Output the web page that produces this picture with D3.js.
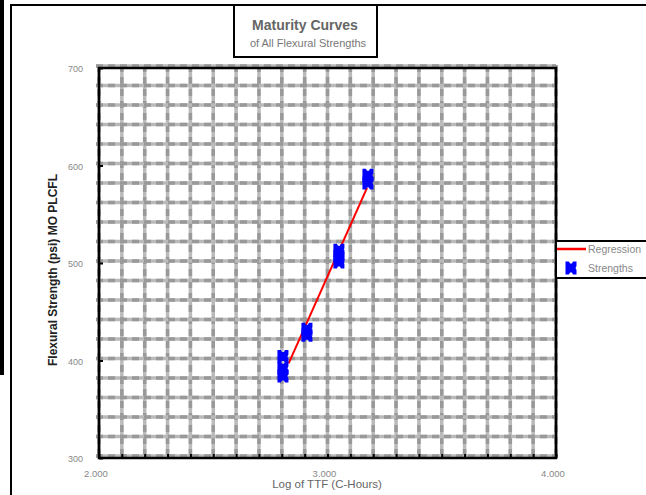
<!DOCTYPE html>
<html lang="en">
  <head>
    <meta charset="UTF-8" />
    <title>Maturity Curves</title>
    <style>
      body { margin: 0; background: #fff; }
      svg { display: block; font-family: "Liberation Sans", Arial, sans-serif; }
    </style>
  </head>
  <body>
    <svg width="646" height="495"></svg>
    <script src="https://d3js.org/d3.v7.min.js"></script>
    <script>
      // data
      const ttfLog = [2.805, 2.805, 2.805, 2.91, 2.91, 3.05, 3.05, 3.05, 3.177, 3.177];
      const strength = [404, 392, 384, 432, 426, 513, 507, 501, 590, 582];
      const regX = [2.83, 3.173];
      const regY = [397, 577];
      const xTicks = [2, 3, 4];
      const yTicks = [300, 400, 500, 600, 700];

      (function () {
        const svg = d3.select("svg");
        const pl = 99, pr = 556, pt = 68, pb = 458;

        const x = d3.scaleLinear().domain([2, 4]).range([pl, pr]);
        const y = d3.scaleLinear().domain([300, 700]).range([pb, pt]);

        // outer page decoration
        svg.append("rect").attr("x", 0).attr("y", 0).attr("width", 4).attr("height", 375).attr("fill", "#000");
        svg.append("line").attr("x1", 10).attr("x2", 646).attr("y1", 5).attr("y2", 5)
          .attr("stroke", "#000").attr("stroke-width", 2);
        svg.append("line").attr("x1", 11).attr("x2", 11).attr("y1", 4).attr("y2", 495)
          .attr("stroke", "#000").attr("stroke-width", 2);

        // title box
        svg.append("rect").attr("x", 234).attr("y", 5).attr("width", 143).attr("height", 52)
          .attr("fill", "#fff").attr("stroke", "#000").attr("stroke-width", 2);
        svg.append("text").attr("x", 305).attr("y", 30).attr("text-anchor", "middle")
          .attr("font-size", 14).attr("font-weight", "bold").attr("fill", "#666")
          .text("Maturity Curves");
        svg.append("text").attr("x", 308).attr("y", 47).attr("text-anchor", "middle")
          .attr("font-size", 11).attr("fill", "#777")
          .text("of All Flexural Strengths");

        // grid
        const g = svg.append("g");
        const vGrid = d3.range(21).map((i) => 2 + i * 0.1);
        const hGrid = d3.range(21).map((i) => 300 + i * 20);
        function gridLine(x1, y1, x2, y2, w) {
          g.append("line").attr("x1", x1).attr("y1", y1).attr("x2", x2).attr("y2", y2)
            .attr("stroke", "#bababa").attr("stroke-width", w);
          g.append("line").attr("x1", x1).attr("y1", y1).attr("x2", x2).attr("y2", y2)
            .attr("stroke", "#999").attr("stroke-width", w).attr("stroke-dasharray", "7,5");
        }
        vGrid.forEach((v) => gridLine(x(v), pt - 3, x(v), pb, 3.5));
        hGrid.forEach((v) => gridLine(pl - 3, y(v) - 2, pr, y(v) - 2, 3.5));

        // frame
        svg.append("rect").attr("x", pl).attr("y", pt).attr("width", pr - pl).attr("height", pb - pt)
          .attr("fill", "none").attr("stroke", "#000").attr("stroke-width", 2.5);

        // axes: inner ticks
        const xAxis = d3.axisBottom(x).tickValues(vGrid).tickSize(-4).tickFormat("");
        svg.append("g").attr("transform", "translate(0," + pb + ")").call(xAxis)
          .call((s) => s.select(".domain").remove())
          .selectAll("line").attr("stroke", "#000").attr("stroke-width", 2);
        const yAxis = d3.axisLeft(y).tickValues(yTicks).tickSize(-4).tickFormat("");
        svg.append("g").attr("transform", "translate(" + pl + ",0)").call(yAxis)
          .call((s) => s.select(".domain").remove())
          .selectAll("line").attr("stroke", "#000").attr("stroke-width", 2);

        // tick labels
        svg.append("g").selectAll("text").data(yTicks).join("text")
          .attr("x", 83).attr("y", (d) => y(d) + 4).attr("text-anchor", "end")
          .attr("font-size", 9).attr("fill", "#888").text((d) => d);
        svg.append("g").selectAll("text").data(xTicks).join("text")
          .attr("x", (d) => x(d) - 3).attr("y", 477).attr("text-anchor", "middle")
          .attr("font-size", 9.5).attr("fill", "#888").text((d) => d3.format(".3f")(d));

        // axis titles
        svg.append("text").attr("x", 327).attr("y", 488).attr("text-anchor", "middle")
          .attr("font-size", 11.5).attr("fill", "#666").text("Log of TTF (C-Hours)");
        svg.append("text").attr("transform", "translate(57,270) rotate(-90)").attr("text-anchor", "middle")
          .attr("font-size", 12).attr("font-weight", "bold").attr("fill", "#222")
          .text("Flexural Strength (psi) MO PLCFL");

        // marker shape
        function marker(cx, cy) {
          return "M" + (cx - 5.5) + "," + (cy - 6.5) +
            "h3.5l1,2h2l1,-2h3.5v4.5l-1,2l1,2v4.5h-3.5l-1,-2h-2l-1,2h-3.5z";
        }

        // regression line
        const line = d3.line().x((d) => x(d[0])).y((d) => y(d[1]));
        svg.append("path").datum(d3.zip(regX, regY)).attr("d", line)
          .attr("fill", "none").attr("stroke", "#ff0000").attr("stroke-width", 2);

        // points
        svg.append("g").selectAll("path").data(d3.zip(ttfLog, strength)).join("path")
          .attr("d", (d) => marker(x(d[0]), y(d[1]))).attr("fill", "#0000ff");

        // legend
        svg.append("rect").attr("x", 556).attr("y", 241).attr("width", 100).attr("height", 37)
          .attr("fill", "#fff").attr("stroke", "#000").attr("stroke-width", 2);
        svg.append("line").attr("x1", 557).attr("x2", 586).attr("y1", 249).attr("y2", 249)
          .attr("stroke", "#ff0000").attr("stroke-width", 2.5);
        svg.append("text").attr("x", 588).attr("y", 253).attr("font-size", 10.5).attr("fill", "#888").text("Regression");
        svg.append("path").attr("d", marker(571, 268)).attr("fill", "#0000ff");
        svg.append("text").attr("x", 588).attr("y", 272).attr("font-size", 10.5).attr("fill", "#888").text("Strengths");
      })();
    </script>
  </body>
</html>
